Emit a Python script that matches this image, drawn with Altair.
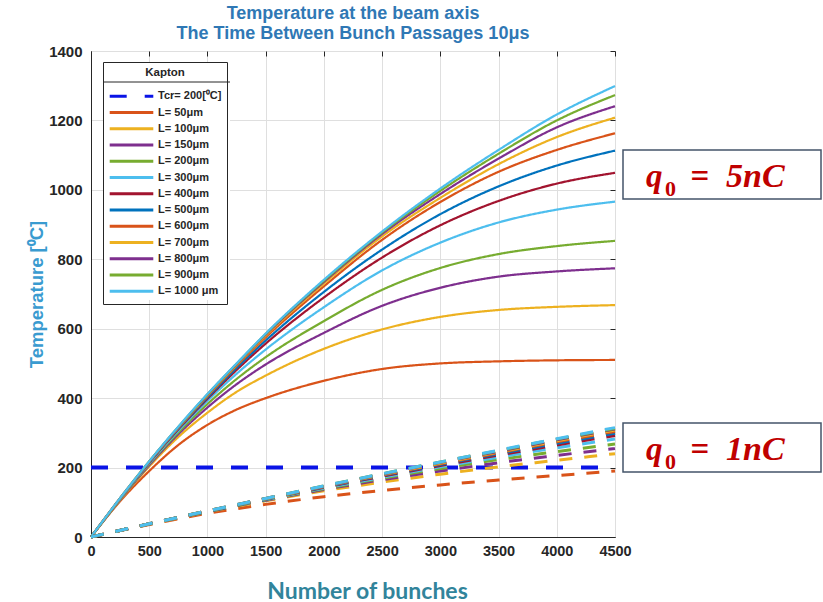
import altair as alt
import pandas as pd

# ---- data -------------------------------------------------------------
# number of bunches at which the 5 nC curves are sampled
bunches_5nc = [0, 250, 500, 750, 1000, 1250, 1500, 2000, 2500, 3000, 3500, 4000, 4500]
# number of bunches at which the 1 nC curves are sampled
bunches_1nc = [0, 500, 1000, 1500, 2000, 2500, 3000, 3500, 4000, 4500]

# Kapton foil thickness [um]
thickness_um = [50, 100, 150, 200, 300, 400, 500, 600, 700, 800, 900, 1000]

# temperature at the beam axis [deg C], bunch charge 5 nC
temp_5nc = {
    50:   [0, 103, 190, 265, 323, 367, 400, 450, 484, 500, 506, 509, 510],
    100:  [0, 106, 203, 288, 358, 418, 465, 542, 598, 634, 654, 663, 668],
    150:  [0, 107, 207, 296, 373, 440, 497, 588, 666, 718, 750, 765, 774],
    200:  [0, 108, 210, 301, 383, 455, 518, 622, 712, 775, 815, 838, 853],
    300:  [0, 109, 212, 306, 392, 470, 540, 662, 768, 848, 906, 943, 966],
    400:  [0, 110, 214, 310, 398, 481, 557, 690, 805, 898, 968, 1018, 1049],
    500:  [0, 110, 215, 312, 402, 487, 566, 706, 828, 930, 1010, 1070, 1113],
    600:  [0, 111, 216, 314, 406, 493, 575, 722, 856, 965, 1052, 1115, 1163],
    700:  [0, 111, 217, 315, 408, 496, 580, 730, 866, 977, 1074, 1152, 1208],
    800:  [0, 112, 217, 316, 410, 498, 583, 735, 873, 988, 1090, 1180, 1241],
    900:  [0, 112, 218, 317, 411, 499, 585, 738, 877, 997, 1104, 1200, 1273],
    1000: [0, 112, 218, 318, 412, 500, 586, 741, 880, 1004, 1115, 1217, 1299],
}

# temperature at the beam axis [deg C], bunch charge 1 nC
temp_1nc = {
    50:   [0, 36, 68, 94, 116, 134, 150, 164, 177, 190],
    100:  [0, 37, 72, 104, 133, 158, 181, 202, 221, 240],
    150:  [0, 37, 73, 106, 137, 165, 190, 214, 235, 255],
    200:  [0, 37, 73, 107, 139, 169, 197, 223, 246, 268],
    300:  [0, 38, 74, 108, 141, 172, 202, 230, 257, 282],
    400:  [0, 38, 74, 109, 143, 175, 206, 236, 265, 292],
    500:  [0, 38, 74, 109, 144, 177, 209, 240, 270, 299],
    600:  [0, 38, 75, 110, 145, 179, 211, 243, 274, 304],
    700:  [0, 38, 75, 110, 146, 180, 213, 245, 277, 308],
    800:  [0, 38, 75, 111, 146, 181, 215, 247, 280, 311],
    900:  [0, 38, 75, 111, 147, 182, 216, 249, 282, 313],
    1000: [0, 38, 75, 111, 147, 182, 216, 250, 283, 315],
}

# critical temperature of Kapton [deg C]
t_critical = 200
x_range = [0, 4500]
x_ticks = list(range(0, 4501, 500))
y_ticks = list(range(0, 1401, 200))

# ---- tables ----------------------------------------------------------
def series_name(L):
    return f"L= {L} \u03bcm" if L >= 1000 else f"L= {L}\u03bcm"

tcr_name = "Tcr= 200[\u2070C]"

rows_5 = [{"n": x, "T": t_critical, "series": tcr_name} for x in x_range]
for L in thickness_um:
    for n, t in zip(bunches_5nc, temp_5nc[L]):
        rows_5.append({"n": n, "T": t, "series": series_name(L)})
df5 = pd.DataFrame(rows_5)

rows_1 = []
for L in thickness_um:
    for n, t in zip(bunches_1nc, temp_1nc[L]):
        rows_1.append({"n": n, "T": t, "series": series_name(L)})
df1 = pd.DataFrame(rows_1)

# ---- styling ---------------------------------------------------------
matlab_cycle = ["#D95319", "#EDB120", "#7E2F8E", "#77AC30", "#4DBEEE", "#A2142F", "#0072BD"]
domain = [tcr_name] + [series_name(L) for L in thickness_um]
colors = ["#0A14E6"] + [matlab_cycle[i % 7] for i in range(len(thickness_um))]
dashes = [[17, 18]] + [[1, 0]] * len(thickness_um)

AX = "#262626"
FONT = "Liberation Sans"

x_scale = alt.Scale(domain=x_range, nice=False)
y_scale = alt.Scale(domain=[0, 1400], nice=False)

x_enc = alt.X(
    "n:Q", scale=x_scale,
    axis=alt.Axis(
        values=x_ticks, format="d",
        title="Number of bunches",
        titleFont="Lato", titleFontSize=23, titleFontWeight="bold", titleColor="#31849B",
        titleX=276, titleY=54, titleBaseline="middle", titleAnchor="middle",
        labelFont=FONT, labelFontSize=14.5, labelFontWeight="bold", labelColor=AX,
        labelPadding=7, labelFlush=False, ticks=False,
        gridColor="#DFDFDF", domainColor=AX,
    ),
)
y_enc = alt.Y(
    "T:Q", scale=y_scale,
    axis=alt.Axis(
        values=y_ticks, format="d",
        title="Temperature  [\u2070C]",
        titleFont=FONT, titleFontSize=18.5, titleFontWeight="bold", titleColor="#3A9BD0",
        titleX=-55, titleY=243, titleAlign="center", titleBaseline="middle", titleAngle=270,
        labelFont=FONT, labelFontSize=15, labelFontWeight="bold", labelColor=AX,
        labelPadding=9, ticks=False,
        gridColor="#DFDFDF", domainColor=AX,
    ),
)

legend = alt.Legend(
    title="Kapton", orient="none", legendX=12, legendY=11,
    titleFont=FONT, titleFontSize=11.5, titleFontWeight="bold", titleColor=AX,
    titleAnchor="middle", titlePadding=10,
    labelFont=FONT, labelFontSize=11, labelFontWeight="bold", labelColor=AX,
    labelLimit=300, labelOffset=3,
    symbolType="stroke", symbolSize=1900, symbolStrokeWidth=3,
    clipHeight=15.5, rowPadding=0.25,
    strokeColor=AX, padding=5,
)

# white backing of the legend box and the rule under its title
legend_back = alt.Chart(pd.DataFrame({"k": [0]})).mark_rect(fill="white").encode(
    x=alt.value(12), x2=alt.value(139), y=alt.value(11), y2=alt.value(249)
)
legend_rule = alt.Chart(pd.DataFrame({"k": [0]})).mark_rule(color=AX, strokeWidth=1).encode(
    x=alt.value(12), x2=alt.value(139), y=alt.value(31)
)

lines_5 = alt.Chart(df5).mark_line(interpolate="monotone").encode(
    x=x_enc, y=y_enc,
    color=alt.Color("series:N", scale=alt.Scale(domain=domain, range=colors), legend=legend),
    strokeDash=alt.StrokeDash("series:N", scale=alt.Scale(domain=domain, range=dashes), legend=legend),
    strokeWidth=alt.condition(alt.datum.series == tcr_name, alt.value(4), alt.value(2.2)),
)

# 1 nC curves; their axes give the inward ticks on the top and right edges
edge_axis = dict(labels=False, domain=False, grid=False, title=None,
                 ticks=True, tickSize=5, tickColor=AX, tickWidth=1, offset=-5)
lines_1 = alt.Chart(df1).mark_line(interpolate="monotone", strokeDash=[13, 12], strokeWidth=3).encode(
    x=alt.X("n:Q", scale=x_scale, axis=alt.Axis(orient="top", values=x_ticks, **edge_axis)),
    y=alt.Y("T:Q", scale=y_scale, axis=alt.Axis(orient="right", values=y_ticks, **edge_axis)),
    color=alt.Color("series:N", legend=None),
)

# charge annotations on the right of the axes
def charge_box(digit, top):
    one = pd.DataFrame({"k": [0]})
    serif = dict(font="Liberation Serif", fontWeight="bold", color="#C00000",
                 baseline="alphabetic")
    box = alt.Chart(one).mark_rect(fill="white", stroke="#44546A", strokeWidth=1.5).encode(
        x=alt.value(532), x2=alt.value(730), y=alt.value(top), y2=alt.value(top + 49))
    q = alt.Chart(one).mark_text(text="q", fontSize=33, fontStyle="italic", align="left", **serif
        ).encode(x=alt.value(555), y=alt.value(top + 37))
    sub = alt.Chart(one).mark_text(text="0", fontSize=22, align="left", **serif
        ).encode(x=alt.value(574), y=alt.value(top + 46))
    eq = alt.Chart(one).mark_text(text="=", fontSize=33, align="center", **serif
        ).encode(x=alt.value(609), y=alt.value(top + 37))
    val = alt.Chart(one).mark_text(text=f"{digit}nC", fontSize=34, fontStyle="italic", align="left", **serif
        ).encode(x=alt.value(635), y=alt.value(top + 37))
    return box + q + sub + eq + val

chart = alt.layer(
    legend_back, legend_rule, lines_5, lines_1,
    charge_box(5, 99), charge_box(1, 372),
).resolve_axis(x="independent", y="independent").properties(
    width=524, height=486,
    title=alt.Title(
        ["Temperature at the beam axis", "The Time Between Bunch Passages 10\u03bcs"],
        anchor="middle", font=FONT, fontSize=18, fontWeight="bold", color="#2F78B5",
        lineHeight=20, offset=1,
    ),
    autosize=alt.AutoSizeParams(type="none"),
    padding={"left": 91, "top": 51, "right": 208, "bottom": 65},
).configure_view(stroke=AX, strokeWidth=1).configure(background="white")

chart.save("out.html", embed_options={"renderer": "svg", "actions": False})
